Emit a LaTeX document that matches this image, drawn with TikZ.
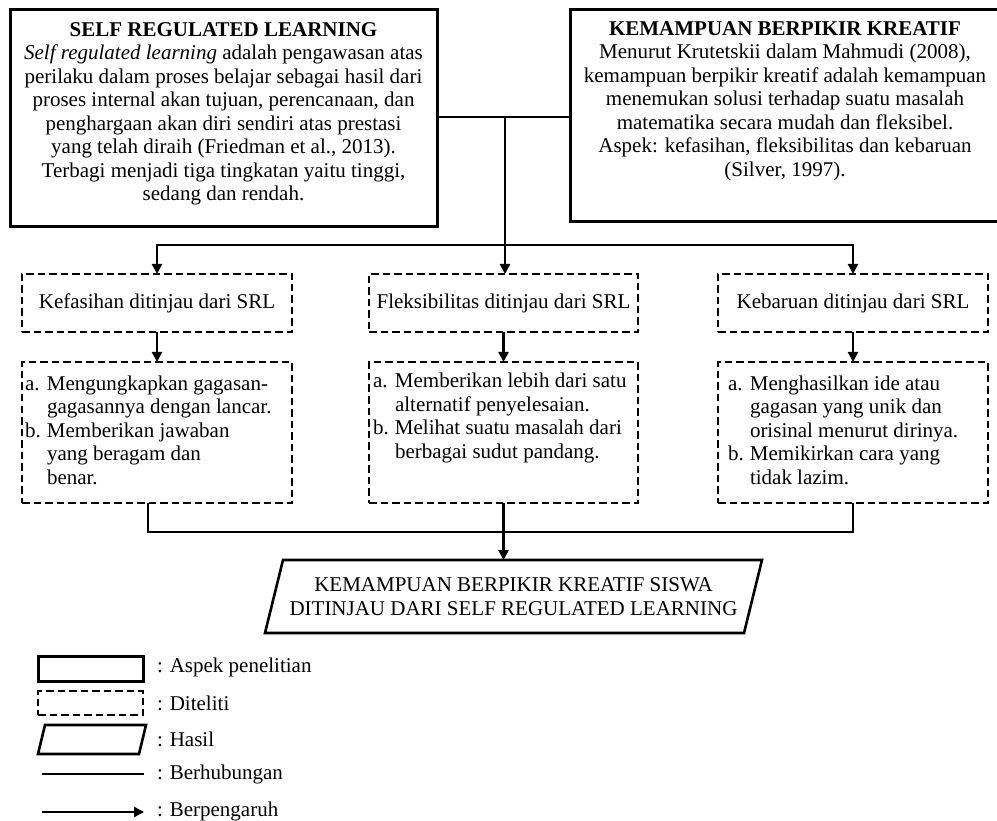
\documentclass[tikz,border=0pt]{standalone}
\usepackage{fontspec}
\setmainfont{Liberation Serif}
\usetikzlibrary{arrows.meta}
% list items with a hanging label column
\newcommand{\itm}[1]{\makebox[22pt][l]{#1}}
\newcommand{\hang}{\hspace*{22pt}}
\begin{document}
\begin{tikzpicture}[x=1pt,y=-1pt,
  every node/.style={font=\fontsize{21}{23.5}\selectfont, inner sep=0pt, outer sep=0pt},
  frame/.style={draw, line width=3pt, rectangle},
  studied/.style={draw, line width=2.4pt, dash pattern=on 7.5pt off 4pt},
  result/.style={draw, line width=2.6pt, line join=miter},
  conn/.style={line width=2.4pt},
  flow/.style={conn, -{Triangle[length=10pt,width=10pt]}},
  txt/.style={align=center},
  listtxt/.style={align=left, anchor=west},
  legtxt/.style={anchor=west}]

\useasboundingbox (0,0) rectangle (997,821);

% ---- theory boxes ----
\node[frame, minimum width=427pt, minimum height=217pt] (srl) at (223.5,118.5) {};
\node[txt] (srltext) at (223.5,114) {\textbf{SELF REGULATED LEARNING}\\
  \textit{Self regulated learning} adalah pengawasan atas\\
  perilaku dalam proses belajar sebagai hasil dari\\
  proses internal akan tujuan, perencanaan, dan\\
  penghargaan akan diri sendiri atas prestasi\\
  yang telah diraih (Friedman et al., 2013).\\
  Terbagi menjadi tiga tingkatan yaitu tinggi,\\
  sedang dan rendah.};

\node[frame, minimum width=430pt, minimum height=212pt] (kbk) at (785,116) {};
\node[txt] (kbktext) at (785,101) {\textbf{KEMAMPUAN BERPIKIR KREATIF}\\
  Menurut Krutetskii dalam Mahmudi (2008),\\
  kemampuan berpikir kreatif adalah kemampuan\\
  menemukan solusi terhadap suatu masalah\\
  matematika secara mudah dan fleksibel.\\
  Aspek: kefasihan, fleksibilitas dan kebaruan\\
  (Silver, 1997).};

% ---- aspects ----
\node[studied, minimum width=270pt, minimum height=58pt] (k1) at (157,303) {Kefasihan ditinjau dari SRL};
\node[studied, minimum width=269pt, minimum height=58pt] (f1) at (503.5,303) {Fleksibilitas ditinjau dari SRL};
\node[studied, minimum width=270pt, minimum height=58pt] (b1) at (853,303) {Kebaruan ditinjau dari SRL};

\node[studied, minimum width=270pt, minimum height=141pt] (k2) at (157,432.5) {};
\node[studied, minimum width=269pt, minimum height=141pt] (f2) at (503.5,432.5) {};
\node[studied, minimum width=270pt, minimum height=141pt] (b2) at (853,432.5) {};

\node[listtxt] (k2text) at (25,430) {\itm{a.}Mengungkapkan gagasan-\\
  \hang gagasannya dengan lancar.\\
  \itm{b.}Memberikan jawaban\\
  \hang yang beragam dan\\
  \hang benar.};
\node[listtxt] (f2text) at (373,418) {\itm{a.}Memberikan lebih dari satu\\
  \hang alternatif penyelesaian.\\
  \itm{b.}Melihat suatu masalah dari\\
  \hang berbagai sudut pandang.};
\node[listtxt] (b2text) at (728,430) {\itm{a.}Menghasilkan ide atau\\
  \hang gagasan yang unik dan\\
  \hang orisinal menurut dirinya.\\
  \itm{b.}Memikirkan cara yang\\
  \hang tidak lazim.};

% ---- result (parallelogram) ----
\coordinate (hbl) at (265,633);
\coordinate (htl) at (283,560);
\coordinate (htr) at (762,560);
\coordinate (hbr) at (744,633);
\draw[result] (hbl) -- (htl) -- (htr) -- (hbr) -- cycle;
\node[txt] (hasil) at (513.5,596.5)
  {KEMAMPUAN BERPIKIR KREATIF SISWA\\DITINJAU DARI SELF REGULATED LEARNING};

% ---- connectors ----
\coordinate (hub) at (505,117);
\coordinate (bus) at (505,245);
\coordinate (jl) at (148,532);
\coordinate (jr) at (853,532);

\draw[conn] (srl.east |- hub) -- (kbk.west |- hub);
\draw[conn] (hub) -- (bus);
\draw[flow] (bus) -- (bus |- f1.north);
\draw[flow] (bus) -| (k1.north);
\draw[flow] (bus) -| (b1.north);

\draw[flow] (k1.south) -- (k2.north);
\draw[flow] (f1.south) -- (f2.north);
\draw[flow] (b1.south) -- (b2.north);

\draw[conn] (k2.south -| jl) -- (jl) -- (jr) -- (b2.south -| jr);
\draw[flow] (f2.south) -- (f2.south |- htl);

% ---- legend ----
\node[frame, minimum width=105pt, minimum height=25pt] (lg1) at (90.5,668.5) {};
\node[studied, minimum width=105pt, minimum height=24pt] (lg2) at (90.5,703) {};
\coordinate (lg3bl) at (38,754);
\coordinate (lg3tl) at (45,725);
\coordinate (lg3tr) at (146,725);
\coordinate (lg3br) at (139,754);
\draw[result] (lg3bl) -- (lg3tl) -- (lg3tr) -- (lg3br) -- cycle;
\coordinate (lg4a) at (42,774);
\coordinate (lg4b) at (144,774);
\coordinate (lg5a) at (42,812);
\coordinate (lg5b) at (144,812);
\draw[conn] (lg4a) -- (lg4b);
\draw[flow] (lg5a) -- (lg5b);

\node[legtxt] (lt1) at (157,667) {: Aspek penelitian};
\node[legtxt] (lt2) at (157,703) {: Diteliti};
\node[legtxt] (lt3) at (157,739) {: Hasil};
\node[legtxt] (lt4) at (157,774) {: Berhubungan};
\node[legtxt] (lt5) at (157,811) {: Berpengaruh};
\end{tikzpicture}
\end{document}
